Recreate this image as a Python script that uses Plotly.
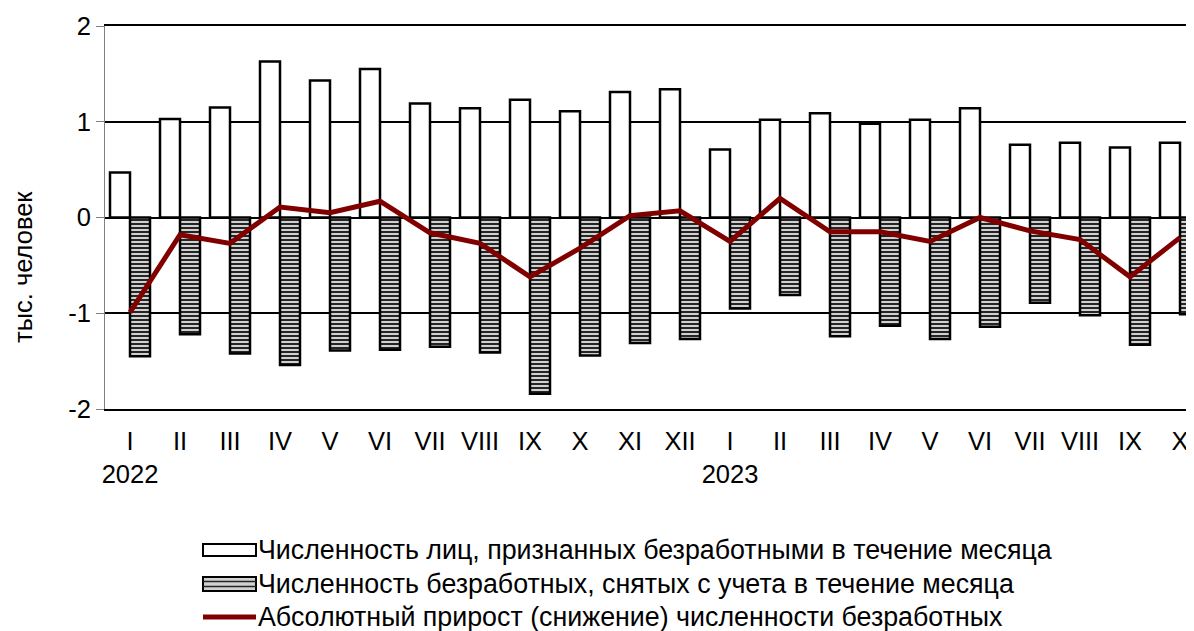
import plotly.graph_objects as go

months = ["I", "II", "III", "IV", "V", "VI", "VII", "VIII", "IX", "X", "XI", "XII",
          "I", "II", "III", "IV", "V", "VI", "VII", "VIII", "IX", "X"]
years = {0: "2022", 12: "2023"}

registered = [0.47, 1.03, 1.15, 1.63, 1.43, 1.55, 1.19, 1.14, 1.23, 1.11, 1.31, 1.34,
              0.71, 1.02, 1.09, 0.98, 1.02, 1.14, 0.76, 0.78, 0.73, 0.78]
removed = [-1.45, -1.22, -1.42, -1.54, -1.39, -1.38, -1.35, -1.41, -1.84, -1.44, -1.31, -1.27,
           -0.95, -0.81, -1.24, -1.13, -1.27, -1.14, -0.89, -1.02, -1.33, -1.01]
net_change = [-0.99, -0.18, -0.27, 0.11, 0.05, 0.17, -0.16, -0.27, -0.62, -0.32, 0.02, 0.07,
              -0.25, 0.20, -0.15, -0.15, -0.25, 0.00, -0.14, -0.23, -0.62, -0.21]

names = ["Численность лиц, признанных безработными в течение месяца",
         "Численность безработных, снятых с учета в течение месяца",
         "Абсолютный прирост (снижение) численности безработных"]
y_title = "тыс. человек"

x = list(range(len(months)))
ticktext = [m + ("<br>" + years[i] if i in years else "") for i, m in enumerate(months)]

FONT = "Arial, Liberation Sans, sans-serif"
OFF = 8  # default page body margin
W, H = 1194, 631
L, R, T, B = 97, 0, 18, 230
PW, PH = W - L - R, H - T - B
XR = [-0.5, -0.5 + PW / 50.0]


def px(page_x):
    return (page_x - OFF - L) / PW


def py(page_y):
    return (H - B - (page_y - OFF)) / PH


fig = go.Figure()
fig.add_trace(go.Bar(x=x, y=registered, name=names[0],
                     marker=dict(color="white", line=dict(color="black", width=2.5))))
fig.add_trace(go.Bar(x=x, y=removed, name=names[1],
                     marker=dict(color="#d0d0d0", line=dict(color="black", width=2.5),
                                 pattern=dict(shape="-", fgcolor="#111111", bgcolor="#d0d0d0",
                                              size=4, solidity=0.45, fillmode="replace"))))
fig.add_trace(go.Scatter(x=x, y=net_change, name=names[2], mode="lines",
                         line=dict(color="#800000", width=5)))

# manual legend (wide swatches like the reference)
shapes = []
annotations = []
leg_x0, leg_x1 = 203, 256
rows = [550, 584, 617]
shapes.append(dict(type="rect", xref="paper", yref="paper",
                   x0=px(leg_x0), x1=px(leg_x1), y0=py(rows[0] - 6), y1=py(rows[0] + 6),
                   fillcolor="white", line=dict(color="black", width=2)))
shapes.append(dict(type="rect", xref="paper", yref="paper",
                   x0=px(leg_x0), x1=px(leg_x1), y0=py(rows[1] - 7), y1=py(rows[1] + 7),
                   fillcolor="#d0d0d0", line=dict(color="black", width=2)))
for dy in (-2.5, 2.5):
    shapes.append(dict(type="line", xref="paper", yref="paper",
                       x0=px(leg_x0), x1=px(leg_x1), y0=py(rows[1] + dy), y1=py(rows[1] + dy),
                       line=dict(color="#222222", width=1.5)))
shapes.append(dict(type="line", xref="paper", yref="paper",
                   x0=px(leg_x0), x1=px(leg_x1), y0=py(rows[2]), y1=py(rows[2]),
                   line=dict(color="#800000", width=5)))
for name, r in zip(names, rows):
    annotations.append(dict(text=name, xref="paper", yref="paper", x=px(256), y=py(r),
                            xanchor="left", yanchor="middle", showarrow=False,
                            font=dict(size=26.8, family=FONT, color="black")))
annotations.append(dict(text=y_title, xref="paper", yref="paper", x=px(23), y=py(267),
                        xanchor="center", yanchor="middle", textangle=-90, showarrow=False,
                        font=dict(size=25.5, family=FONT, color="black")))

fig.update_layout(
    width=W, height=H,
    margin=dict(l=L, r=R, t=T, b=B, autoexpand=False),
    paper_bgcolor="white", plot_bgcolor="white",
    font=dict(family=FONT, size=25.5, color="black"),
    barmode="group", bargap=0.2, bargroupgap=0,
    showlegend=False,
    shapes=shapes, annotations=annotations,
    xaxis=dict(range=XR, tickmode="array", tickvals=x, ticktext=ticktext,
               showgrid=False, showline=True, mirror=True, linecolor="black", linewidth=2,
               ticks="outside", ticklen=8, tickcolor="rgba(0,0,0,0)", zeroline=False,
               tickfont=dict(size=25.5), automargin=False),
    xaxis2=dict(overlaying="x", anchor="free", position=0.5, range=XR,
                tickmode="array", tickvals=[i + 0.5 for i in x[:-1]], ticks="outside",
                ticklen=5, tickcolor="#808080", tickwidth=1, showticklabels=False,
                showgrid=False, showline=False, zeroline=False, automargin=False),
    yaxis=dict(range=[-2, 2], tickvals=[-2, -1, 0, 1, 2], ticktext=["-2", "-1", "0", "1", "2"],
               showgrid=True, gridcolor="black", gridwidth=2,
               zeroline=True, zerolinecolor="black", zerolinewidth=1.5,
               showline=True, linecolor="#808080", linewidth=1,
               ticks="outside", ticklen=8, tickcolor="#808080",
               tickfont=dict(size=25.5), automargin=False),
)

fig.write_html("out.html")
